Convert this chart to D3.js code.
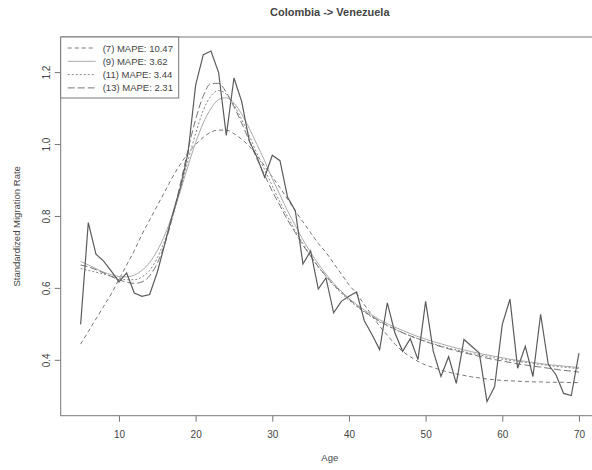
<!DOCTYPE html>
<html>
<head>
<meta charset="utf-8">
<script src="https://cdn.jsdelivr.net/npm/d3@7"></script>
<style>
    body { margin: 0; background: #fff; }
    text { font-family: "Liberation Sans", Arial, sans-serif; fill: #444; }
</style>
</head>
<body>
<div id="chart"></div>
<script>
/* --------------------------------------------------------- */
/* Data.                              */
/* --------------------------------------------------------- */
var ages = d3.range(5, 71);

// Observed standardized migration rate, ages 5..70.
var observed = [
    0.50, 0.783, 0.695, 0.676, 0.648, 0.618, 0.643, 0.587, 0.578, 0.583,
    0.645, 0.725, 0.807, 0.88, 0.975, 1.165, 1.25, 1.26, 1.20, 1.025,
    1.185, 1.12, 1.01, 0.965, 0.909, 0.97, 0.955, 0.853, 0.816, 0.668,
    0.704, 0.598, 0.629, 0.532, 0.564, 0.578, 0.59, 0.51, 0.472, 0.43,
    0.56, 0.476, 0.425, 0.46, 0.402, 0.564, 0.425, 0.355, 0.41, 0.336,
    0.458, 0.439, 0.42, 0.285, 0.327, 0.50, 0.57, 0.378, 0.439, 0.355,
    0.528, 0.388, 0.36, 0.308, 0.302, 0.42
];

// Fitted curves, one per model, ages 5..70.
var fit07 = [
    0.445, 0.48, 0.515, 0.55, 0.585, 0.625, 0.665, 0.705, 0.75, 0.79,
    0.83, 0.87, 0.91, 0.945, 0.975, 1.0, 1.02, 1.035, 1.04, 1.04,
    1.03, 1.015, 0.995, 0.97, 0.94, 0.91, 0.88, 0.848, 0.815, 0.785,
    0.755, 0.725, 0.70, 0.67, 0.64, 0.61, 0.585, 0.555, 0.525, 0.495,
    0.47, 0.445, 0.425, 0.41, 0.397, 0.387, 0.38, 0.373, 0.367, 0.362,
    0.358, 0.354, 0.351, 0.348, 0.346, 0.344, 0.343, 0.342, 0.341, 0.34,
    0.34, 0.339, 0.339, 0.339, 0.338, 0.338
];
var fit09 = [
    0.675, 0.665, 0.655, 0.645, 0.638, 0.633, 0.632, 0.637, 0.65, 0.672,
    0.705, 0.75, 0.805, 0.87, 0.94, 1.005, 1.06, 1.10, 1.125, 1.13,
    1.115, 1.085, 1.045, 1.0, 0.955, 0.905, 0.86, 0.815, 0.775, 0.735,
    0.70, 0.668, 0.64, 0.614, 0.592, 0.572, 0.555, 0.54, 0.526, 0.513,
    0.502, 0.492, 0.483, 0.474, 0.466, 0.459, 0.452, 0.446, 0.44, 0.434,
    0.429, 0.424, 0.419, 0.415, 0.411, 0.407, 0.403, 0.40, 0.397, 0.394,
    0.391, 0.388, 0.386, 0.384, 0.382, 0.38
];
var fit11 = [
    0.655, 0.65, 0.645, 0.64, 0.634, 0.628, 0.624, 0.624, 0.632, 0.65,
    0.685, 0.735, 0.80, 0.875, 0.955, 1.03, 1.095, 1.135, 1.15, 1.14,
    1.11, 1.07, 1.025, 0.975, 0.93, 0.885, 0.84, 0.80, 0.76, 0.725,
    0.69, 0.66, 0.633, 0.608, 0.587, 0.567, 0.55, 0.534, 0.52, 0.507,
    0.496, 0.486, 0.476, 0.468, 0.46, 0.453, 0.446, 0.44, 0.434, 0.429,
    0.424, 0.419, 0.415, 0.411, 0.407, 0.403, 0.40, 0.397, 0.394, 0.391,
    0.388, 0.386, 0.383, 0.381, 0.379, 0.377
];
var fit13 = [
    0.665, 0.66, 0.652, 0.643, 0.633, 0.624, 0.617, 0.614, 0.618, 0.635,
    0.67, 0.725, 0.80, 0.89, 0.985, 1.07, 1.135, 1.17, 1.17, 1.145,
    1.105, 1.06, 1.01, 0.96, 0.915, 0.87, 0.83, 0.79, 0.755, 0.72,
    0.69, 0.66, 0.635, 0.61, 0.59, 0.57, 0.552, 0.536, 0.522, 0.509,
    0.497, 0.487, 0.477, 0.468, 0.46, 0.452, 0.445, 0.438, 0.432, 0.426,
    0.421, 0.416, 0.411, 0.406, 0.402, 0.398, 0.394, 0.39, 0.387, 0.384,
    0.381, 0.378, 0.375, 0.372, 0.37, 0.367
];

var legendLabels = ["(7) MAPE: 10.47", "(9) MAPE: 3.62",
                    "(11) MAPE: 3.44", "(13) MAPE: 2.31"];
var xTicks = [10, 20, 30, 40, 50, 60, 70];
var yTicks = [0.4, 0.6, 0.8, 1.0, 1.2];
/* --------------------------------------------------------- */


/* --------------------------------------------------------- */
/* Layout.                                                   */
/* --------------------------------------------------------- */
var width  = 592, height = 470;
var plot   = {left: 60.7, right: 598.9, top: 37, bottom: 415.7};

// R style axes: data range extended by 4% on each side.
function padded(lo, hi) {
    var d = (hi - lo) * 0.04;
    return [lo - d, hi + d];
}
var x = d3.scaleLinear()
    .domain(padded(d3.min(ages), d3.max(ages)))
    .range([plot.left, plot.right]);
var y = d3.scaleLinear()
    .domain(padded(d3.min(observed), d3.max(observed)))
    .range([plot.bottom, plot.top]);

var svg = d3.select("#chart").append("svg")
    .attr("width", width)
    .attr("height", height);
/* --------------------------------------------------------- */


/* --------------------------------------------------------- */
/* Curves.                                                   */
/* --------------------------------------------------------- */
var series = [
    {values: fit07, dash: "4,3", color: "#777", w: 1},
    {values: fit09, dash: null,  color: "#aaa", w: 1},
    {values: fit11, dash: "2,2", color: "#888", w: 1},
    {values: fit13, dash: "7,3", color: "#777", w: 1}
];

var line = d3.line()
    .x(function(d) { return x(d[0]); })
    .y(function(d) { return y(d[1]); });

series.forEach(function(s) {
    svg.append("path")
        .datum(d3.zip(ages, s.values))
        .attr("d", line.curve(d3.curveMonotoneX))
        .attr("fill", "none")
        .attr("stroke", s.color)
        .attr("stroke-width", s.w)
        .attr("stroke-dasharray", s.dash);
});

svg.append("path")
    .datum(d3.zip(ages, observed))
    .attr("d", line.curve(d3.curveLinear))
    .attr("fill", "none")
    .attr("stroke", "#5c5c5c")
    .attr("stroke-width", 1.2);
/* --------------------------------------------------------- */


/* --------------------------------------------------------- */
/* Box, axes, labels.                                        */
/* --------------------------------------------------------- */
svg.append("rect")
    .attr("x", plot.left).attr("y", plot.top)
    .attr("width", plot.right - plot.left)
    .attr("height", plot.bottom - plot.top)
    .attr("fill", "none")
    .attr("stroke", "#777");

var xAxis = svg.append("g")
    .attr("transform", "translate(0," + plot.bottom + ")")
    .call(d3.axisBottom(x).tickValues(xTicks).tickSize(6).tickPadding(9)
          .tickFormat(d3.format("d")));
xAxis.select(".domain").remove();

var yAxis = svg.append("g")
    .attr("transform", "translate(" + plot.left + ",0)")
    .call(d3.axisLeft(y).tickValues(yTicks).tickSize(6)
          .tickFormat(d3.format(".1f")));
yAxis.select(".domain").remove();
yAxis.selectAll("text")
    .attr("transform", function(d) { return "translate(-11," + y(d) + ") rotate(-90)"; })
    .attr("x", 0).attr("y", 0).attr("dy", "0")
    .attr("text-anchor", "middle");
yAxis.selectAll(".tick").attr("transform", null);
yAxis.selectAll(".tick line")
    .attr("y1", function(d) { return y(d); })
    .attr("y2", function(d) { return y(d); });

svg.selectAll(".tick line").attr("stroke", "#777");
svg.selectAll(".tick text")
    .style("font-size", "10px")
    .attr("fill", "#444");

svg.append("text")
    .attr("x", (plot.left + plot.right) / 2).attr("y", 16)
    .attr("text-anchor", "middle")
    .style("font-size", "11px").style("font-weight", "bold")
    .attr("fill", "#333")
    .text("Colombia -> Venezuela");

svg.append("text")
    .attr("x", (plot.left + plot.right) / 2).attr("y", 461)
    .attr("text-anchor", "middle")
    .style("font-size", "9.5px")
    .text("Age");

svg.append("text")
    .attr("transform", "translate(20," + (plot.top + plot.bottom) / 2 + ") rotate(-90)")
    .attr("text-anchor", "middle")
    .style("font-size", "9.5px")
    .text("Standardized Migration Rate");
/* --------------------------------------------------------- */


/* --------------------------------------------------------- */
/* Legend (top left, inside the box).                        */
/* --------------------------------------------------------- */
var legend = svg.append("g")
    .attr("transform", "translate(" + plot.left + "," + plot.top + ")");

legend.append("rect")
    .attr("width", 118).attr("height", 61)
    .attr("fill", "#fff")
    .attr("stroke", "#777");

series.forEach(function(s, i) {
    var ly = 11 + i * 13.3;
    legend.append("line")
        .attr("x1", 7).attr("x2", 35)
        .attr("y1", ly).attr("y2", ly)
        .attr("stroke", s.color)
        .attr("stroke-width", s.w)
        .attr("stroke-dasharray", s.dash);
    legend.append("text")
        .attr("x", 42).attr("y", ly + 3.5)
        .style("font-size", "9.5px")
        .text(legendLabels[i]);
});
/* --------------------------------------------------------- */
</script>
</body>
</html>
